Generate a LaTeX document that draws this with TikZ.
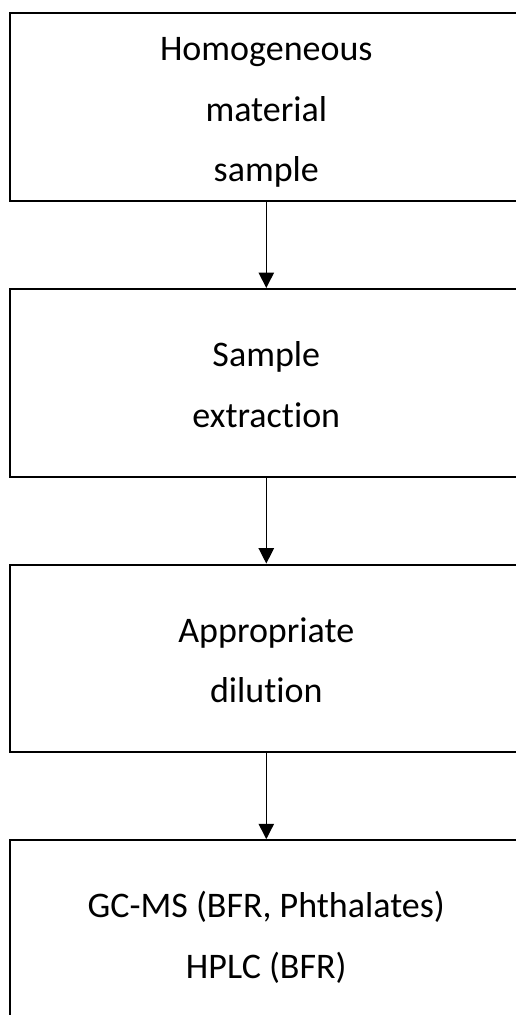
\documentclass[tikz,border=0pt]{standalone}
\usepackage{fontspec}
\setmainfont[Ligatures=NoCommon]{Carlito}
\usetikzlibrary{arrows.meta,positioning}
\newcommand{\lnstrut}{\rule[-7pt]{0pt}{35pt}}

\begin{document}
\begin{tikzpicture}[
    x=0.75pt, y=-0.75pt,
    font=\fontsize{27}{45.5}\selectfont,
    stage/.style={
      draw, line width=1.5pt, align=center,
      minimum width=384.9pt, minimum height=140.8pt, inner sep=0pt
    },
    arr/.style={-{Triangle[width=11.5pt,length=11.5pt]}, line width=1pt}
  ]
    \useasboundingbox (0,0) rectangle (516,1015);
    \node[stage] (muestra) at (266.3,107.2) {\lnstrut Homogeneous\\material\\sample\lnstrut};
    \node[stage, below=64.4pt of muestra] (extrac) {\lnstrut Sample\\extraction\lnstrut};
    \node[stage, below=64.4pt of extrac] (dilu) {\lnstrut Appropriate\\dilution\lnstrut};
    \node[stage, below=64.4pt of dilu] (anal) {\lnstrut GC-MS (BFR, Phthalates)\\HPLC (BFR)\lnstrut};
    \draw[arr] (muestra) -- (extrac);
    \draw[arr] (extrac) -- (dilu);
    \draw[arr] (dilu) -- (anal);
  \end{tikzpicture}
\end{document}
